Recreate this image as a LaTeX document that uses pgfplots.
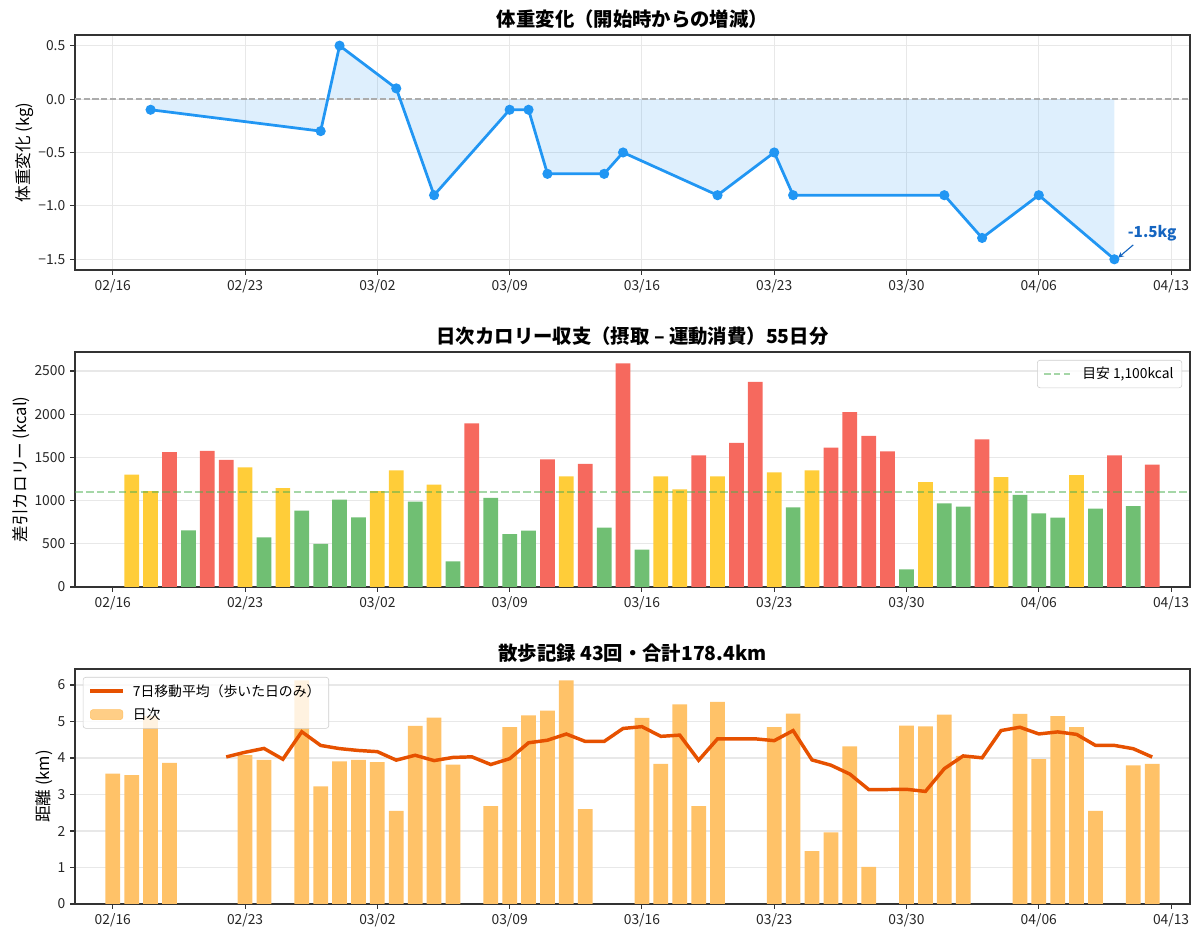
\documentclass[border=0pt]{standalone}
\usepackage{fontspec}
\setmainfont{Noto Sans CJK JP}
\usepackage{pgfplots}
\pgfplotsset{compat=1.18}
\definecolor{wblue}{HTML}{2196F3}
\definecolor{annblue}{HTML}{1565C0}
\definecolor{cred}{RGB}{246,105,94}
\definecolor{cyel}{RGB}{255,205,57}
\definecolor{cgreen}{RGB}{112,191,115}
\definecolor{refgreen}{HTML}{4CAF50}
\definecolor{walkc}{RGB}{255,194,104}
\definecolor{mac}{HTML}{E65100}
\definecolor{gridc}{RGB}{232,232,232}
\pgfplotsset{
  panel/.style={
    width=805.8pt, height=169.83pt, scale only axis,
    anchor=south west,
    xmin=-2, xmax=57,
    xtick={0,7,14,21,28,35,42,49,56},
    xticklabels={02/16,02/23,03/02,03/09,03/16,03/23,03/30,04/06,04/13},
    axis line style={black!80, line width=0.8pt},
    tick align=outside, tick pos=left, major tick length=3.5pt,
    major tick style={black!80, line width=0.8pt},
    ticklabel style={font=\fontsize{10}{12}\selectfont, text=black!85},
    /pgf/number format/assume math mode=true,
    ylabel style={font=\fontsize{12}{14}\selectfont, yshift=-3.6pt},
    title style={font=\bfseries\fontsize{14}{17}\selectfont, yshift=-4.5pt},
    major grid style={gridc, line width=0.8pt},
    legend cell align=left,
  },
  legbox/.style={draw=black!20, fill=white, fill opacity=0.8, text opacity=1, draw opacity=1,
    rounded corners=2pt, font=\fontsize{10}{12}\selectfont, inner xsep=4pt, inner ysep=3pt,
    row sep=3pt,
    /tikz/every odd column/.append style={column sep=4pt}},
  maleg/.style={legend image code/.code={\draw[mac, line width=2.5pt] (0pt,0pt) -- (23.5pt,0pt);}},
  barleg/.style={legend image code/.code={\fill[walkc] (0pt,-3.6pt) rectangle (23.5pt,3.6pt);}},
  refleg/.style={legend image code/.code={\draw[refgreen, opacity=0.5, line width=1.5pt, dash pattern=on 4.8pt off 2.4pt] (0pt,0pt) -- (21pt,0pt);}},
}
\begin{document}
\begin{tikzpicture}
\useasboundingbox (-54.2pt,-26.02pt) rectangle (813.04pt,653.32pt);

% ---------------- top: weight ----------------
\begin{axis}[panel, at={(0pt,458.2pt)},
  ymin=-1.6, ymax=0.6,
  ytick={-1.5,-1,-0.5,0,0.5},
  yticklabels={−1.5,−1.0,−0.5,0.0,0.5},
  xmajorgrids, ymajorgrids,
  ylabel={体重変化 (kg)},
  title={体重変化（開始時からの増減）}]
\addplot[draw=none, fill=wblue, fill opacity=0.15] coordinates {
(2,0) (2,-0.1) (11,-0.3) (12,0.5) (15,0.1) (17,-0.9) (21,-0.1) (22,-0.1) (23,-0.7)
(26,-0.7) (27,-0.5) (32,-0.9) (35,-0.5) (36,-0.9) (44,-0.9) (46,-1.3) (49,-0.9) (53,-1.5) (53,0)};
\addplot[gray!65, line width=1.2pt, dash pattern=on 4.4pt off 1.9pt] coordinates {(-2,0) (57,0)};
\addplot[wblue, line width=2pt, mark=*, mark size=2.6pt, mark options={fill=wblue, draw=wblue, solid}] coordinates {
(2,-0.1) (11,-0.3) (12,0.5) (15,0.1) (17,-0.9) (21,-0.1) (22,-0.1) (23,-0.7)
(26,-0.7) (27,-0.5) (32,-0.9) (35,-0.5) (36,-0.9) (44,-0.9) (46,-1.3) (49,-0.9) (53,-1.5)};
\node[text=annblue, font=\bfseries\fontsize{11}{13}\selectfont] at (axis cs:55.0,-1.255) {-1.5kg};
\draw[annblue, line width=0.8pt, -stealth] (axis cs:54.0,-1.365) -- (axis cs:53.2,-1.485);
\end{axis}

% ---------------- middle: calories ----------------
\begin{axis}[panel, at={(0pt,229.1pt)},
  ymin=0, ymax=2720,
  ytick={0,500,1000,1500,2000,2500},
  yticklabels={0,500,1000,1500,2000,2500},
  ymajorgrids,
  ylabel={差引カロリー (kcal)},
  title={日次カロリー収支（摂取 – 運動消費）55日分},
  legend style={legbox, at={(rel axis cs:0.993,0.966)}, anchor=north east}]
\addplot[ybar, bar width=0.78, bar shift=0pt, fill=cyel, draw=none, forget plot] coordinates {
(1,1300) (2,1110) (7,1385) (9,1145) (14,1110) (15,1350) (17,1184) (24,1281) (29,1281)
(30,1130) (32,1281) (35,1327) (37,1350) (43,1215) (47,1273) (51,1296)};
\addplot[ybar, bar width=0.78, bar shift=0pt, fill=cred, draw=none, forget plot] coordinates {
(3,1560) (5,1575) (6,1470) (19,1894) (23,1478) (25,1424) (27,2589) (31,1524) (33,1667)
(34,2373) (38,1613) (39,2025) (40,1748) (41,1570) (46,1709) (53,1524) (55,1416)};
\addplot[ybar, bar width=0.78, bar shift=0pt, fill=cgreen, draw=none, forget plot] coordinates {
(4,655) (8,575) (10,883) (11,498) (12,1010) (13,806) (16,988) (18,297) (20,1030) (21,613)
(22,652) (26,687) (28,432) (36,922) (42,204) (44,968) (45,930) (48,1065) (49,853) (50,802)
(52,907) (54,937)};
\addplot[refgreen, opacity=0.5, line width=1.5pt, dash pattern=on 5.5pt off 2.4pt, forget plot] coordinates {(-2,1100) (57,1100)};
\addlegendimage{refleg}
\addlegendentry{目安 1,100kcal}
\end{axis}

% ---------------- bottom: walking ----------------
\begin{axis}[panel, at={(0pt,0pt)},
  ymin=0, ymax=6.44,
  ytick={0,1,2,3,4,5,6},
  yticklabels={0,1,2,3,4,5,6},
  ymajorgrids,
  ylabel={距離 (km)},
  title={散歩記録 43回・合計178.4km},
  legend style={legbox, at={(rel axis cs:0.007,0.966)}, anchor=north west}]
\addplot[ybar, bar width=0.78, bar shift=0pt, fill=walkc, draw=none, forget plot] coordinates {
(0,3.57) (1,3.53) (2,5.15) (3,3.87) (7,4.08) (8,3.95) (10,6.13) (11,3.22) (12,3.91) (13,3.95)
(14,3.89) (15,2.55) (16,4.88) (17,5.11) (18,3.82) (20,2.68) (21,4.85) (22,5.17) (23,5.30)
(24,6.13) (25,2.60) (28,5.10) (29,3.84) (30,5.47) (31,2.68) (32,5.54) (35,4.85) (36,5.22)
(37,1.45) (38,1.96) (39,4.32) (40,1.02) (42,4.89) (43,4.87) (44,5.19) (45,4.06) (48,5.21)
(49,3.97) (50,5.15) (51,4.85) (52,2.55) (54,3.80) (55,3.84)};
\addplot[mac, line width=2.5pt, forget plot] coordinates {
(6,4.030) (7,4.158) (8,4.263) (9,3.967) (10,4.720) (11,4.345) (12,4.258) (13,4.207)
(14,4.175) (15,3.942) (16,4.076) (17,3.930) (18,4.016) (19,4.033) (20,3.822) (21,3.982)
(22,4.418) (23,4.488) (24,4.658) (25,4.455) (26,4.455) (27,4.810) (28,4.860) (29,4.594)
(30,4.628) (31,3.938) (32,4.526) (33,4.526) (34,4.526) (35,4.476) (36,4.752) (37,3.948)
(38,3.804) (39,3.560) (40,3.137) (41,3.137) (42,3.143) (43,3.085) (44,3.708) (45,4.058)
(46,4.006) (47,4.753) (48,4.844) (49,4.660) (50,4.716) (51,4.648) (52,4.346) (53,4.346)
(54,4.255) (55,4.027)};
\addlegendimage{maleg}
\addlegendentry{7日移動平均（歩いた日のみ）}
\addlegendimage{barleg}
\addlegendentry{日次}
\end{axis}
\end{tikzpicture}
\end{document}
